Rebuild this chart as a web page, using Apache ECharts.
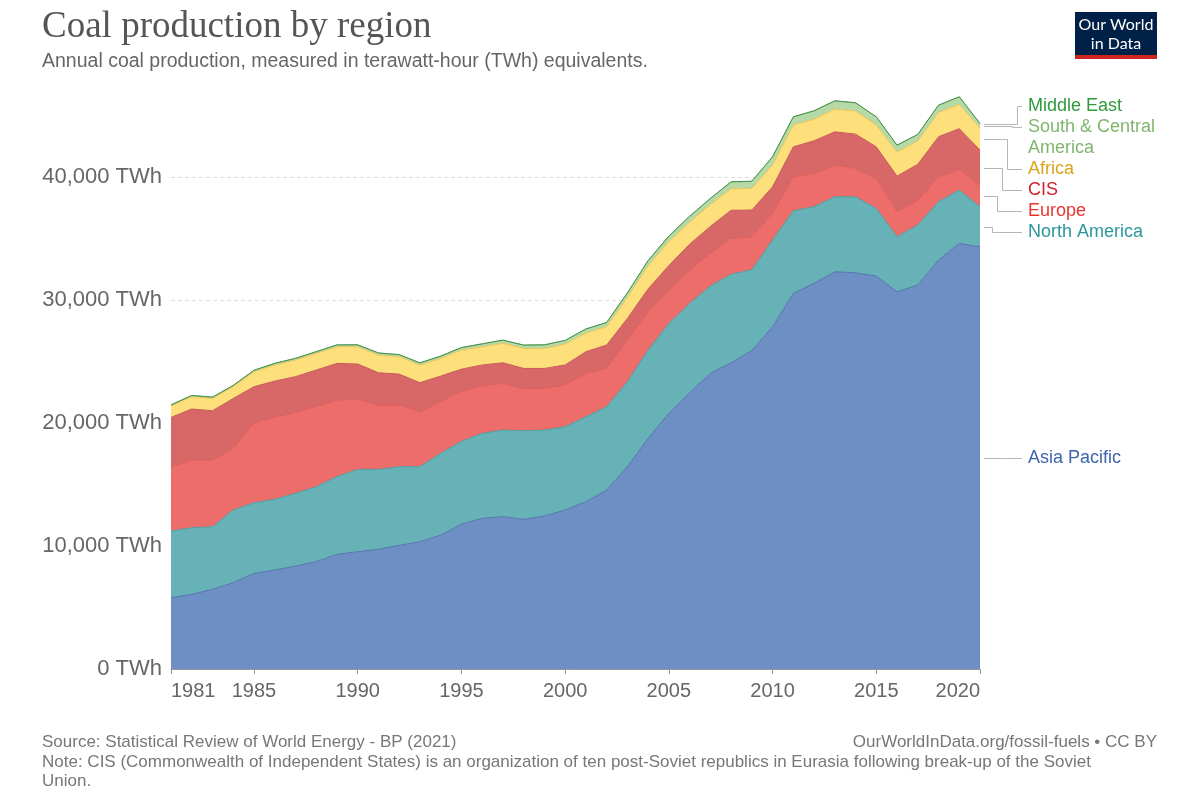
<!DOCTYPE html>
<html><head><meta charset="utf-8">
<script src="https://cdn.jsdelivr.net/npm/echarts@6/dist/echarts.min.js"></script>
<style>html,body{margin:0;padding:0;background:#fff}#c{width:1200px;height:800px}</style>
</head><body><div id="c"></div>
<script>
const years = ['1981','1982','1983','1984','1985','1986','1987','1988','1989','1990',
  '1991','1992','1993','1994','1995','1996','1997','1998','1999','2000',
  '2001','2002','2003','2004','2005','2006','2007','2008','2009','2010',
  '2011','2012','2013','2014','2015','2016','2017','2018','2019','2020'];
const yTicks = [0, 10000, 20000, 30000, 40000];
const xTickLabels = ['1981','1985','1990','1995','2000','2005','2010','2015','2020'];

const asiaPacific = [5800,6070,6480,7020,7780,8050,8370,8730,9320,9540,
  9730,10050,10350,10890,11780,12250,12390,12170,12440,12930,
  13600,14550,16450,18760,20790,22460,24040,24900,25900,27830,
  30540,31360,32300,32220,31950,30670,31220,33250,34610,34330];
const northAmerica = [5420,5420,5090,5910,5740,5750,5910,6090,6320,6690,
  6500,6400,6100,6650,6720,6910,7040,7210,6990,6770,
  6910,6780,6910,7170,7310,7270,7100,7200,6560,7050,
  6720,6230,6100,6180,5500,4480,4880,4740,4330,3260];
const europe = [5170,5500,5420,5010,6510,6660,6590,6510,6230,5700,
  5230,5010,4470,4190,4100,3850,3790,3440,3390,3390,
  3530,3110,3390,3120,2710,2710,2650,2900,2690,2170,
  2760,2710,2570,2300,2440,2030,1970,2030,1680,1680];
const cis = [4070,4150,4010,4060,2920,2950,2900,2980,2980,2870,
  2630,2520,2360,2090,1780,1710,1680,1620,1620,1630,
  1760,1900,1750,1850,2000,2100,2200,2300,2170,2160,
  2440,2650,2710,2790,2570,2900,2970,3260,3320,2920];
const africa = [920,1000,1000,950,1220,1310,1350,1350,1350,1400,
  1440,1410,1440,1440,1550,1480,1580,1630,1630,1700,
  1520,1500,1720,1900,1950,1800,1780,1750,1760,1780,
  1775,1760,1850,1880,1780,1965,1890,1980,1970,1810];
const southCentralAmerica = [90,95,100,105,115,125,130,135,145,150,
  160,165,165,175,200,230,250,260,280,290,
  320,320,350,400,430,460,480,550,570,650,
  650,670,660,660,650,540,525,575,605,345];
const middleEast = [10,10,10,10,10,10,10,10,10,10,
  10,10,10,10,12,12,12,12,12,12,
  12,12,12,12,15,15,15,15,15,15,
  15,15,15,15,15,15,15,15,15,15];

const seriesDefs = [
  {name:'Asia Pacific', data:asiaPacific, fill:'#6e8fc4', line:'#5574ad', label:'#3d64ab', text:'Asia Pacific'},
  {name:'North America', data:northAmerica, fill:'#67b2b6', line:'#4e9ea3', label:'#2a979c', text:'North America'},
  {name:'Europe', data:europe, fill:'#ec6d69', line:'#dc5d5a', label:'#e8362f', text:'Europe'},
  {name:'CIS', data:cis, fill:'#d86767', line:'#c75858', label:'#cc2430', text:'CIS'},
  {name:'Africa', data:africa, fill:'#fde07b', line:'#eac55c', label:'#d9a51f', text:'Africa'},
  {name:'South & Central America', data:southCentralAmerica, fill:'#b6d9a8', line:'#8fc280', label:'#80b56e', text:'South & Central\nAmerica'},
  {name:'Middle East', data:middleEast, fill:'#6db36d', line:'#46924a', label:'#2f9a3c', text:'Middle East'}
];

const SANS = "'Liberation Sans', Arial, sans-serif";
const chart = echarts.init(document.getElementById('c'), null, {renderer:'canvas'});
const showTick = (idx, val) => xTickLabels.indexOf(val) >= 0;

chart.setOption({
  animation:false,
  backgroundColor:'#fff',
  title:[
    {text:'Coal production by region', left:42, top:9, padding:0,
     textStyle:{fontFamily:"'Liberation Serif', 'DejaVu Serif', serif", fontSize:37, fontWeight:'normal', color:'#555'}},
    {text:'Annual coal production, measured in terawatt-hour (TWh) equivalents.', left:42, top:52, padding:0,
     textStyle:{fontFamily:SANS, fontSize:19.5, fontWeight:'normal', color:'#666'}},
    {text:'Source: Statistical Review of World Energy - BP (2021)', left:42, top:734, padding:0,
     textStyle:{fontFamily:SANS, fontSize:17, fontWeight:'normal', color:'#777'}},
    {text:'OurWorldInData.org/fossil-fuels • CC BY', right:43, top:734, padding:0,
     textStyle:{fontFamily:SANS, fontSize:17, fontWeight:'normal', color:'#777'}},
    {text:'Note: CIS (Commonwealth of Independent States) is an organization of ten post-Soviet republics in Eurasia following break-up of the Soviet\nUnion.', left:42, top:753, padding:0,
     textStyle:{fontFamily:SANS, fontSize:17, fontWeight:'normal', color:'#777', lineHeight:19}}
  ],
  grid:{left:171, right:220, top:91, bottom:131},
  xAxis:{
    type:'category', data:years, boundaryGap:false,
    axisLine:{lineStyle:{color:'#999', width:1}},
    axisTick:{interval:showTick, length:5, lineStyle:{color:'#999'}},
    axisLabel:{interval:showTick, fontFamily:SANS, fontSize:20, color:'#666', margin:12,
      alignMinLabel:'left', alignMaxLabel:'right'},
    splitLine:{show:false}
  },
  yAxis:{
    type:'value', min:0, max:47000, interval:10000,
    axisLine:{show:false}, axisTick:{show:false},
    axisLabel:{fontFamily:SANS, fontSize:22, color:'#666', margin:9, showMaxLabel:false,
      formatter:v => yTicks.indexOf(v) >= 0 ? v.toLocaleString('en-US') + ' TWh' : ''},
    splitLine:{show:true, showMinLine:false, showMaxLine:false, lineStyle:{color:'#dcdcdc', type:[4,3], width:1}}
  },
  series: seriesDefs.map(d => ({
    name:d.name, type:'line', stack:'total', data:d.data, symbol:'none', smooth:false,
    lineStyle:{color:d.line, width:1}, areaStyle:{color:d.fill, opacity:1},
    emphasis:{disabled:true}
  }))
});

// right-side labels
function drawLabels(){
  const last = years.length - 1;
  let cum = 0;
  const items = seriesDefs.map((d) => {
    const lo = cum; cum += d.data[last]; const hi = cum;
    const p = chart.convertToPixel({gridIndex:0}, [last, (lo+hi)/2]);
    const lines = d.text.split('\n').length;
    return {d, y:p[1], x:p[0], h:lines*21};
  });
  const sorted = items.slice().sort((a,b)=>a.y-b.y);
  let clusters = sorted.map(it => ({items:[it], h:it.h, c:it.y}));
  let merged = true;
  const GAP = 8;
  while (merged){
    merged = false;
    for (let i=0;i<clusters.length-1;i++){
      const a = clusters[i], b = clusters[i+1];
      if (a.c + a.h/2 + GAP > b.c - b.h/2){
        const its = a.items.concat(b.items);
        const c = its.reduce((s,t)=>s+t.y,0)/its.length + 6;
        clusters.splice(i,2,{items:its, h:a.h+b.h, c});
        merged = true; break;
      }
    }
  }
  const x0 = items[0].x + 4, labelX = 1028, endX = 1022;
  const g = [];
  clusters.forEach(cl => {
    let top = cl.c - cl.h/2;
    cl.items.forEach((it, j) => {
      const ly = top + 10.5;
      const bend = cl.items.length > 1 ? 1017 - j*5 : (x0 + endX)/2;
      const yy = Math.round(it.y)+0.5, ll = Math.round(ly)+0.5;
      const pts = [[x0, yy],[bend+0.5, yy],[bend+0.5, ll],[endX, ll]];
      g.push({type:'polyline', shape:{points:pts}, style:{stroke:'#b5b5b5', lineWidth:1, fill:null}, silent:true});
      g.push({type:'text', x:labelX, y:top, style:{text:it.d.text, fill:it.d.label, font:"18px 'Liberation Sans', Arial, sans-serif", lineHeight:21, textVerticalAlign:'top', verticalAlign:'top'}, silent:true});
      top += it.h;
    });
  });
  // logo
  g.push({type:'rect', shape:{x:1075, y:12, width:82, height:47}, style:{fill:'#002147'}, silent:true});
  g.push({type:'rect', shape:{x:1075, y:55, width:82, height:4}, style:{fill:'#ce261e'}, silent:true});
  g.push({type:'text', x:1116, y:15, style:{text:'Our World\nin Data', fill:'#fff', font:"16px Lato, 'Liberation Sans', sans-serif", lineHeight:19, textAlign:'center', align:'center', textVerticalAlign:'top', verticalAlign:'top'}, silent:true});
  chart.setOption({graphic:{elements:g}});
}
drawLabels();
</script></body></html>
